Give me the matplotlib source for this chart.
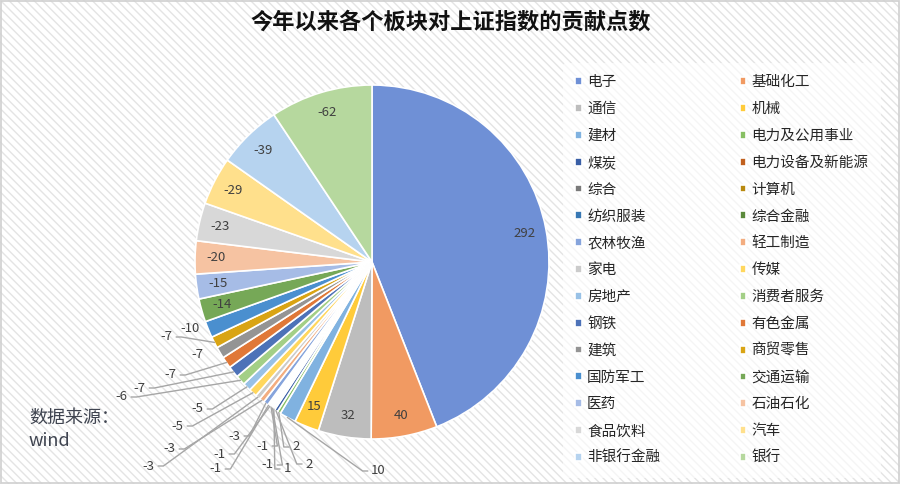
import numpy as np
import matplotlib
matplotlib.use("Agg")
import matplotlib.pyplot as plt
from matplotlib.patches import Rectangle

plt.rcParams['font.family'] = ['Noto Sans CJK SC', 'DejaVu Sans']

# data: contribution points of each sector
sectors = ['电子', '基础化工', '通信', '机械', '建材', '电力及公用事业', '煤炭',
           '电力设备及新能源', '综合', '计算机', '纺织服装', '综合金融', '农林牧渔',
           '轻工制造', '家电', '传媒', '房地产', '消费者服务', '钢铁', '有色金属',
           '建筑', '商贸零售', '国防军工', '交通运输', '医药', '石油石化',
           '食品饮料', '汽车', '非银行金融', '银行']
points = [292, 40, 32, 15, 10, 2, 2, 1, -1, -1, -1, -1, -3, -3, -3, -5, -5,
          -6, -7, -7, -7, -7, -10, -14, -15, -20, -23, -29, -39, -62]

colors = ['#6f90d6', '#f19a62', '#bdbdbd', '#ffcb3a', '#80b2e0', '#88c064',
          '#3a5fa6', '#c0601e', '#7a7a7a', '#b8890f', '#3878b4', '#5b8a3c',
          '#86a4dc', '#f3ad80', '#cbcbcb', '#ffd75e', '#98c1e6', '#a3cf86',
          '#4d72b8', '#e07838', '#949494', '#d9a414', '#4a8fcf', '#76a857',
          '#a6bce6', '#f6c3a2', '#d8d8d8', '#ffe08c', '#b6d3ef', '#b6d89e']

# outside label positions (pixels, image coords) for the small slices
outside = {
    '建材': (378, 471), '电力及公用事业': (296, 447), '煤炭': (309, 464),
    '电力设备及新能源': (287, 469), '综合': (267, 465), '计算机': (262, 446),
    '纺织服装': (219, 454), '综合金融': (215, 469), '农林牧渔': (234, 436),
    '轻工制造': (169, 449), '家电': (148, 466), '传媒': (177, 426),
    '房地产': (197, 409), '消费者服务': (121, 397), '钢铁': (139, 388),
    '有色金属': (170, 375), '建筑': (197, 354), '商贸零售': (166, 337),
    '国防军工': (190, 328),
}

W, H = 900, 484
fig = plt.figure(figsize=(9, 4.84), dpi=100)
fig.patches.append(Rectangle((0, 0), 1, 1, transform=fig.transFigure,
                             facecolor='white', edgecolor='#e4e4e4',
                             hatch='\\\\\\\\', lw=0, zorder=-10))
fig.patches.append(Rectangle((0.001, 0.002), 0.998, 0.996, transform=fig.transFigure,
                             facecolor='none', edgecolor='#d0d0d0', lw=1.2, zorder=-9))

ax = fig.add_axes([0, 0, 1, 1])
ax.patch.set_alpha(0)
cx, cy, R = 372, H - 262, 177
wedges, _ = ax.pie(np.abs(points), colors=colors, startangle=90, counterclock=False,
                   center=(cx, cy), radius=R,
                   wedgeprops=dict(edgecolor='white', linewidth=1.2))
ax.set_xlim(0, W)
ax.set_ylim(0, H)
ax.set_aspect('equal')
ax.axis('off')

for w, name, v in zip(wedges, sectors, points):
    th = np.deg2rad((w.theta1 + w.theta2) / 2)
    if name in outside:
        lx, ly = outside[name]
        ly = H - ly
        sx, sy = cx + R * np.cos(th), cy + R * np.sin(th)
        ax.text(lx, ly, str(v), ha='center', va='center', fontsize=9.5, color='#404040')
        half = 4 + 3.2 * len(str(v))
        if np.hypot(lx - sx, ly - sy) > 28:
            side = -1 if lx > sx else 1
            ex = lx + side * half
            ax.plot([sx, ex + side * 5, ex], [sy, ly, ly], color='#a6a6a6', lw=1)
    else:
        r = 0.88 * R
        ax.text(cx + r * np.cos(th), cy + r * np.sin(th), str(v), ha='center',
                va='center', fontsize=9.5, color='#404040')

# legend, row-wise order in two columns
order = list(range(0, 30, 2)) + list(range(1, 30, 2))
leg = ax.legend([wedges[i] for i in order], [sectors[i] for i in order], ncol=2,
                loc='upper left', bbox_to_anchor=(563 / W, 1 - 63 / H),
                bbox_transform=fig.transFigure, frameon=True, fontsize=10.5,
                handlelength=0.45, handleheight=0.45, handletextpad=0.35,
                labelspacing=0.88, columnspacing=5.45, borderpad=0.85,
                borderaxespad=0)
leg.get_frame().set_facecolor('white')
leg.get_frame().set_alpha(0.65)
leg.get_frame().set_edgecolor('none')
for t in leg.get_texts():
    t.set_color('#262626')

fig.text(451 / W, 1 - 22 / H, '今年以来各个板块对上证指数的贡献点数', ha='center',
         va='center', fontsize=16, fontweight='bold', color='#111111')
fig.text(29 / W, 1 - 429 / H, '数据来源：\nwind', ha='left', va='center',
         fontsize=13, color='#3f4450', linespacing=1.4)

fig.savefig('out.png', dpi=100)
